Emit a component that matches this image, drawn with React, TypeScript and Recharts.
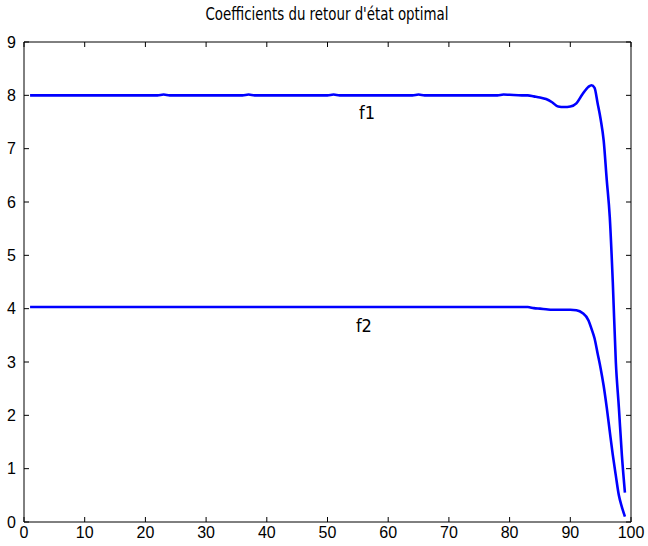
import React from 'react';
import { LineChart, Line, XAxis, YAxis, ReferenceDot } from 'recharts';

const xs = [1, 22, 23, 24, 36, 37, 38, 50, 51, 52, 64, 65, 66, 78, 79, 80, 82, 83, 84, 85, 86, 87, 88, 89, 90, 91, 92, 93, 93.5, 94, 94.5, 95, 95.5, 96, 96.5, 97, 97.5, 98, 98.5, 99];
const f1Values = [8, 8, 8.015, 8, 8, 8.015, 8, 8, 8.015, 8, 8, 8.015, 8, 8, 8.015, 8.01, 8.0, 8.0, 7.98, 7.96, 7.93, 7.87, 7.79, 7.78, 7.79, 7.85, 8.02, 8.16, 8.19, 8.14, 7.85, 7.55, 7.15, 6.42, 5.72, 4.5, 3.0, 2.15, 1.25, 0.55];
const f2Values = [4.03, 4.03, 4.03, 4.03, 4.03, 4.03, 4.03, 4.03, 4.03, 4.03, 4.03, 4.03, 4.03, 4.03, 4.03, 4.03, 4.03, 4.03, 4.01, 4.0, 3.99, 3.98, 3.98, 3.98, 3.98, 3.97, 3.92, 3.78, 3.62, 3.44, 3.16, 2.88, 2.55, 2.15, 1.7, 1.26, 0.87, 0.5, 0.28, 0.1];
const xTicks = [0, 10, 20, 30, 40, 50, 60, 70, 80, 90, 100];
const yTicks = [0, 1, 2, 3, 4, 5, 6, 7, 8, 9];
const title = "Coefficients du retour d'état optimal";
const seriesLabels = [
  { name: 'f1', x: 56.5, y: 7.67 },
  { name: 'f2', x: 56, y: 3.68 },
];

const data = xs.map((x, i) => ({ x, f1: f1Values[i], f2: f2Values[i] }));

const narrow = "'Liberation Sans Narrow', 'DejaVu Sans Condensed', sans-serif";
const tickFont = { fontSize: 16, fill: '#000', fontFamily: "'Liberation Sans', Arial, sans-serif" };

export default function App() {
  return (
    <div style={{ position: 'absolute', left: 0, top: 0, width: 648, height: 546, background: '#fff' }}>
      <LineChart width={648} height={546} data={data} margin={{ top: 41, right: 16, bottom: 0, left: 0 }}>
        <XAxis xAxisId="b" dataKey="x" type="number" domain={[0, 100]} ticks={xTicks} orientation="bottom" height={24}
          tickSize={-5} tickMargin={10} stroke="#000" tick={tickFont} interval={0} allowDataOverflow />
        <XAxis xAxisId="t" dataKey="x" type="number" domain={[0, 100]} ticks={xTicks} orientation="top" height={1}
          tickSize={-5} stroke="#000" tickFormatter={() => ''} interval={0} allowDataOverflow />
        <YAxis yAxisId="l" type="number" domain={[0, 9]} ticks={yTicks} orientation="left" width={24}
          tickSize={-5} tickMargin={13} stroke="#000" tick={tickFont} interval={0} allowDataOverflow />
        <YAxis yAxisId="r" type="number" domain={[0, 9]} ticks={yTicks} orientation="right" width={1}
          tickSize={-5} stroke="#000" tickFormatter={() => ''} interval={0} allowDataOverflow />
        <Line xAxisId="t" yAxisId="r" dataKey="f2" stroke="none" strokeWidth={0} dot={false} activeDot={false} isAnimationActive={false} />
        <Line xAxisId="b" yAxisId="l" dataKey="f1" type="monotone" stroke="#0000FF" strokeWidth={2.6} dot={false} isAnimationActive={false} />
        <Line xAxisId="b" yAxisId="l" dataKey="f2" type="monotone" stroke="#0000FF" strokeWidth={2.6} dot={false} isAnimationActive={false} />
        {seriesLabels.map((s) => (
          <ReferenceDot key={s.name} xAxisId="b" yAxisId="l" x={s.x} y={s.y} r={0} stroke="none" fill="none"
            label={{ value: s.name, position: 'center', fontSize: 18, fill: '#000', fontFamily: narrow }} />
        ))}
      </LineChart>
      <svg width={648} height={30} style={{ position: 'absolute', left: 0, top: 0, pointerEvents: 'none' }}>
        <text x={327} y={20} textAnchor="middle" fontSize={18} fontFamily={narrow} fill="#000"
          textLength={243} lengthAdjust="spacingAndGlyphs">{title}</text>
      </svg>
    </div>
  );
}
